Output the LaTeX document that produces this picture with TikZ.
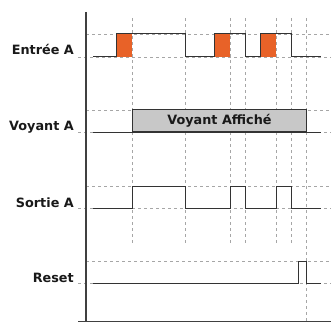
\documentclass[tikz,border=0pt]{standalone}
\usepackage{fontspec}
\setmainfont{DejaVu Sans}
\begin{document}
\begin{tikzpicture}[x=1pt,y=-1pt,
  sig/.style={draw=black!80, line width=1pt, line join=miter},
  grid/.style={draw=black!35, line width=0.7pt, dash pattern=on 3pt off 3pt},
  axis/.style={draw=black!75, line width=1.1pt},
  lbl/.style={font=\bfseries\fontsize{12.8}{14}\selectfont, text=black!90, inner sep=0pt, anchor=base east},
  orange/.style={fill={rgb,255:red,232;green,98;blue,40}, draw=none},
  vbox/.style={fill={rgb,255:red,200;green,200;blue,200}, draw=black!80, line width=1pt}]
\useasboundingbox (0,0) rectangle (331,323);
% vertical dashed guides
\foreach \x in {132,185,230,245,276,291} \draw[grid] (\x,18) -- (\x,245);
\draw[grid] (306,18) -- (306,322);
% horizontal dashed levels
\foreach \h/\l in {34/57,110/132,186/208,261/283} {
  \draw[grid] (86,\h) -- (331,\h);
  \draw[grid] (78,\l) -- (331,\l);
}
% labels
\node[lbl] (la) at (74,55) {Entrée A};
\node[lbl] (lv) at (74,131) {Voyant A};
\node[lbl] (ls) at (74,207) {Sortie A};
\node[lbl] (lr) at (74,282) {Reset};
% Entree A orange pulses
\fill[orange] (116,34) rectangle (132.4,57);
\fill[orange] (214,34) rectangle (230.4,57);
\fill[orange] (260,34) rectangle (276.4,57);
\draw[sig] (93,57) -- (116,57) -- (116,34) -- (185,34) -- (185,57) -- (214,57) -- (214,34) -- (245,34) -- (245,57) -- (260,57) -- (260,34) -- (291,34) -- (291,57) -- (321,57);
% Voyant A
\draw[sig] (93,132) -- (321,132);
\node[vbox, minimum width=174pt, minimum height=22pt, anchor=south west, inner sep=0pt,
  font=\bfseries\fontsize{12.8}{14}\selectfont, text=black!90] (vb) at (132,132) {Voyant Affiché};
% Sortie A
\draw[sig] (93,208) -- (132,208) -- (132,186) -- (185,186) -- (185,208) -- (230,208) -- (230,186) -- (245,186) -- (245,208) -- (276,208) -- (276,186) -- (291,186) -- (291,208) -- (321,208);
% Reset
\draw[sig] (93,283) -- (298,283) -- (298,261) -- (306,261) -- (306,283) -- (321,283);
% axes
\draw[axis] (86,12) -- (86,322);
\draw[axis] (78,321.5) -- (331,321.5);
\end{tikzpicture}
\end{document}
